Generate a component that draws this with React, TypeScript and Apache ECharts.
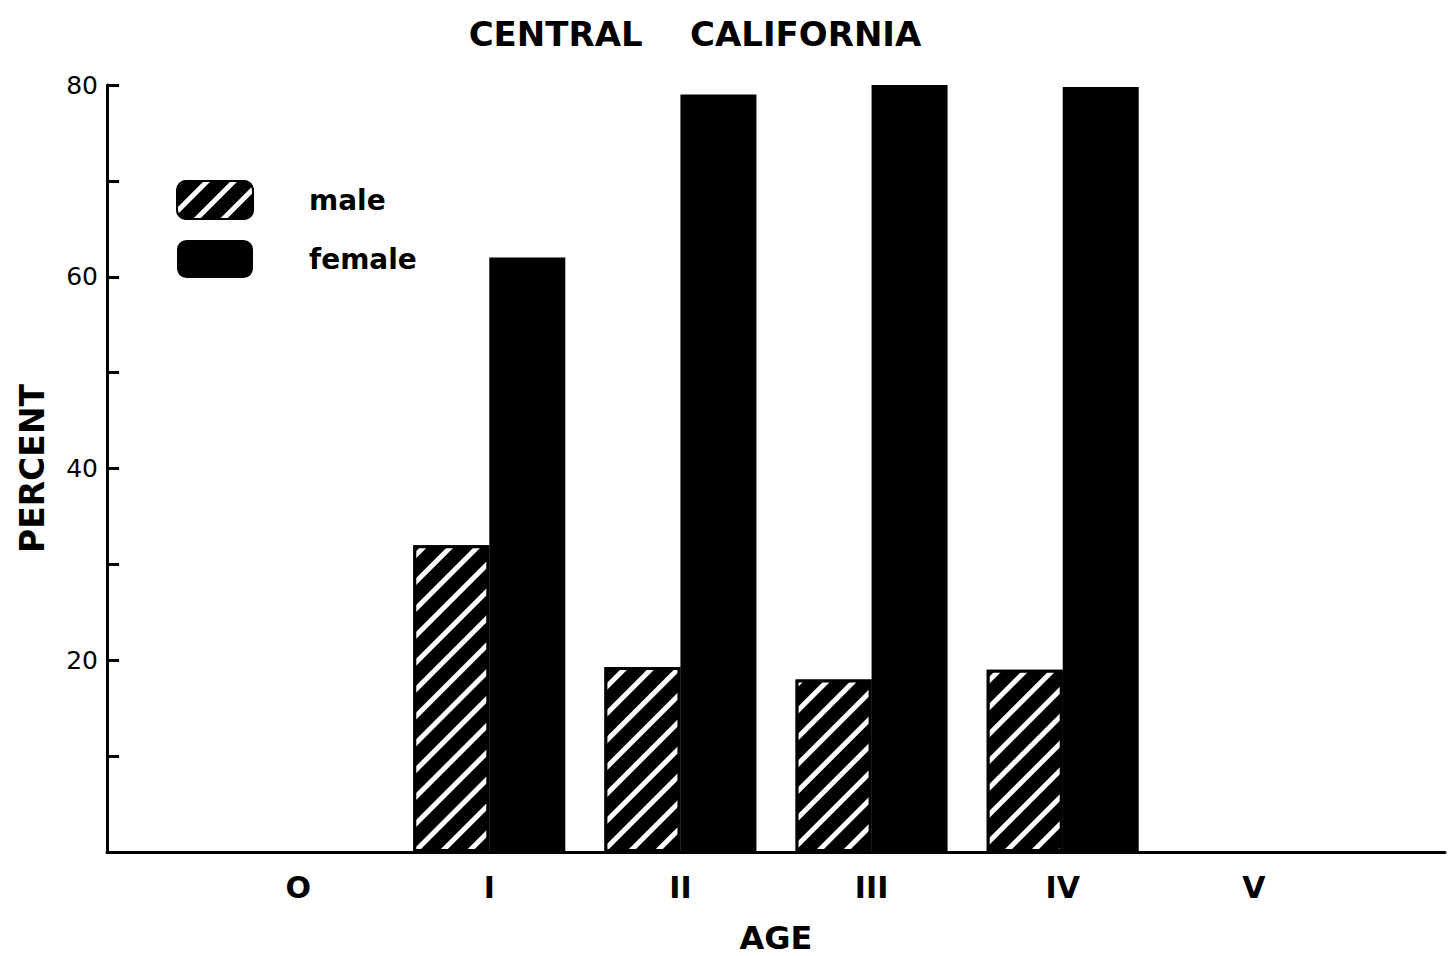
import React, { useEffect, useRef } from "react";
import * as echarts from "echarts";

const categories = ["", "O", "I", "II", "III", "IV", "V", ""];
const maleValues = [null, null, 32, 19.3, 18, 19, null, null];
const femaleValues = [null, null, 62, 79, 80, 79.8, null, null];
const yTickLabels = [20, 40, 60, 80];

const FONT = "DejaVu Sans";

export default function App() {
  const ref = useRef<HTMLDivElement>(null);
  useEffect(() => {
    if (!ref.current) return;
    const chart = echarts.init(ref.current, null, { renderer: "svg" });
    chart.setOption({
      animation: false,
      backgroundColor: "#fff",
      title: {
        text: "CENTRAL    CALIFORNIA",
        left: 690,
        textAlign: "center",
        top: 12,
        textStyle: { fontFamily: FONT, fontSize: 34, fontWeight: "bold", color: "#000" },
      },
      legend: {
        orient: "vertical",
        left: 171,
        top: 175,
        itemWidth: 76,
        itemHeight: 38,
        itemGap: 20,
        icon: "roundRect",
        selectedMode: false,
        textStyle: {
          fontFamily: FONT,
          fontSize: 28,
          fontWeight: "bold",
          color: "#000",
          padding: [0, 0, 0, 51],
        },
        data: ["male", "female"],
      },
      grid: { left: 107, right: 8, top: 85, bottom: 104, containLabel: false, outerBoundsMode: "none" },
      xAxis: {
        type: "category",
        data: categories,
        boundaryGap: false,
        name: "AGE",
        nameLocation: "middle",
        nameGap: 70,
        nameTextStyle: { fontFamily: FONT, fontSize: 32, lineHeight: 32, fontWeight: "bold", color: "#000" },
        axisLine: { show: true, onZero: false, lineStyle: { color: "#000", width: 3 } },
        axisTick: { show: false },
        axisLabel: { fontFamily: FONT, fontSize: 30, fontWeight: "bold", color: "#000", margin: 20, interval: 0 },
        splitLine: { show: false },
      },
      yAxis: {
        type: "value",
        min: 0,
        max: 80,
        interval: 10,
        name: "PERCENT",
        nameLocation: "middle",
        nameGap: 58,
        nameTextStyle: { fontFamily: FONT, fontSize: 33, fontWeight: "bold", color: "#000" },
        axisLine: { show: true, lineStyle: { color: "#000", width: 3 } },
        axisTick: { show: true, inside: true, length: 12, lineStyle: { color: "#000", width: 3 } },
        axisLabel: {
          fontFamily: FONT,
          fontSize: 25,
          color: "#000",
          margin: 9,
          formatter: (v: number) => (yTickLabels.indexOf(v) >= 0 ? String(v) : ""),
        },
        splitLine: { show: false },
      },
      series: [
        {
          name: "male",
          type: "bar",
          data: maleValues,
          barWidth: 76,
          barGap: "0%",
          itemStyle: {
            color: "#000",
            borderColor: "#000",
            borderWidth: 3,
            decal: {
              symbol: "rect",
              symbolSize: 1,
              color: "#fff",
              backgroundColor: "transparent",
              dashArrayX: [1, 0],
              dashArrayY: [5, 14],
              rotation: -Math.PI / 4,
            },
          },
        },
        {
          name: "female",
          type: "bar",
          data: femaleValues,
          barWidth: 76,
          barGap: "0%",
          itemStyle: { color: "#000" },
        },
      ],
    });
    return () => chart.dispose();
  }, []);
  return (
    <div
      ref={ref}
      style={{ position: "fixed", left: 0, top: 0, width: 1453, height: 956 }}
    />
  );
}
